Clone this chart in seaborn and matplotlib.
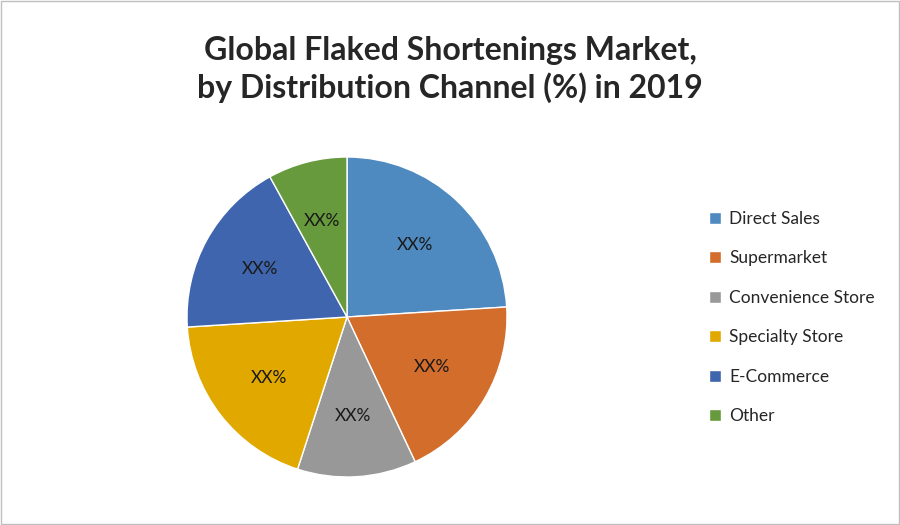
import matplotlib
matplotlib.use("Agg")
import matplotlib.pyplot as plt
import seaborn as sns
from matplotlib.patches import Rectangle

channels = ["Direct Sales", "Supermarket", "Convenience Store",
            "Specialty Store", "E-Commerce", "Other"]
shares = [24, 19, 12, 19, 18, 8]
labels = ["XX%"] * len(channels)
colors = ["#4E8AC0", "#D26D2B", "#989898", "#E1A900", "#3F65AE", "#669A3D"]

sns.set_theme(style="white")
plt.rcParams['font.family'] = ['Lato', 'DejaVu Sans']

fig = plt.figure(figsize=(9, 5.25), dpi=100)
fig.patches.append(Rectangle((0.001, 0.001), 0.998, 0.998, transform=fig.transFigure,
                             fill=False, edgecolor="#BFBFBF", linewidth=1))

fig.text(0.5, 0.868, "Global Flaked Shortenings Market,\nby Distribution Channel (%) in 2019",
         ha="center", va="center", fontsize=23, fontweight="bold", linespacing=1.3)

ax = fig.add_axes([(347 - 160) / 900, (525 - 477) / 525, 320 / 900, 320 / 525])
wedges, texts = ax.pie(shares, colors=colors, startangle=90, counterclock=False,
                       labels=labels, labeldistance=0.62,
                       wedgeprops=dict(edgecolor="white", linewidth=1),
                       textprops=dict(fontsize=12.5, color="#1A1A1A"))
for t in texts:
    t.set_ha("center")
    t.set_va("center")
ax.set_xlim(-1, 1)
ax.set_ylim(-1, 1)
ax.set_aspect("equal")

fig.legend(wedges, channels, loc="center left", bbox_to_anchor=(0.77, 0.395),
           frameon=False, fontsize=12.5, handlelength=0.7, handleheight=0.7,
           labelspacing=1.35, handletextpad=0.5)

fig.savefig("out.png", dpi=100)
